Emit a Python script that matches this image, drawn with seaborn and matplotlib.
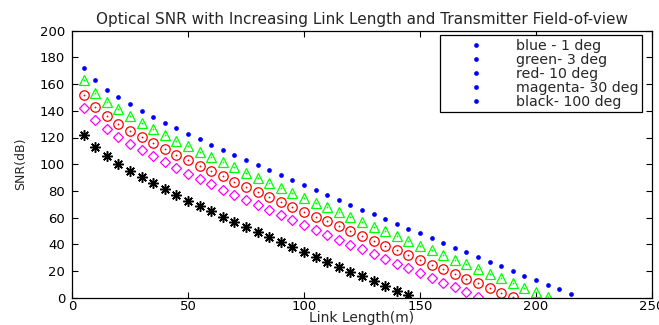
import matplotlib
matplotlib.use("Agg")
import matplotlib.pyplot as plt
from matplotlib.lines import Line2D
import seaborn as sns
import pandas as pd

# Link length (m)
dist_blue = [5, 10, 15, 20, 25, 30, 35, 40, 45, 50, 55, 60, 65, 70, 75, 80, 85, 90, 95, 100,
             105, 110, 115, 120, 125, 130, 135, 140, 145, 150, 155, 160, 165, 170, 175, 180,
             185, 190, 195, 200, 205, 210, 215]
snr_blue = [172.0, 162.7, 155.9, 150.2, 145.0, 140.2, 135.6, 131.2, 126.9, 122.7, 118.6, 114.6,
            110.7, 106.8, 102.9, 99.1, 95.4, 91.6, 87.9, 84.2, 80.5, 76.9, 73.2, 69.6, 66.0,
            62.4, 58.8, 55.3, 51.7, 48.2, 44.6, 41.1, 37.6, 34.1, 30.6, 27.1, 23.6, 20.1, 16.6,
            13.2, 9.7, 6.3, 2.8]

dist_green = dist_blue[:41]
snr_green = [162.8, 153.5, 146.7, 141.0, 135.8, 131.0, 126.4, 122.0, 117.7, 113.5, 109.4, 105.4,
             101.5, 97.6, 93.7, 89.9, 86.2, 82.4, 78.7, 75.0, 71.3, 67.7, 64.0, 60.4, 56.8,
             53.2, 49.6, 46.1, 42.5, 39.0, 35.4, 31.9, 28.4, 24.9, 21.4, 17.9, 14.4, 10.9, 7.4,
             4.0, 0.5]

dist_red = dist_blue[:38]
snr_red = [152.2, 142.9, 136.1, 130.4, 125.2, 120.4, 115.8, 111.4, 107.1, 102.9, 98.8, 94.8,
           90.9, 87.0, 83.1, 79.3, 75.6, 71.8, 68.1, 64.4, 60.7, 57.1, 53.4, 49.8, 46.2, 42.6,
           39.0, 35.5, 31.9, 28.4, 24.8, 21.3, 17.8, 14.3, 10.8, 7.3, 3.8, 0.3]

dist_magenta = dist_blue[:35]
snr_magenta = [142.2, 132.9, 126.1, 120.4, 115.2, 110.4, 105.8, 101.4, 97.1, 92.9, 88.8, 84.8,
               80.9, 77.0, 73.1, 69.3, 65.6, 61.8, 58.1, 54.4, 50.7, 47.1, 43.4, 39.8, 36.2,
               32.6, 29.0, 25.5, 21.9, 18.4, 14.8, 11.3, 7.8, 4.3, 0.8]

dist_black = dist_blue[:29]
snr_black = [122.0, 112.7, 105.9, 100.2, 95.0, 90.2, 85.6, 81.2, 76.9, 72.7, 68.6, 64.6, 60.7,
             56.8, 52.9, 49.1, 45.4, 41.6, 37.9, 34.2, 30.5, 26.9, 23.2, 19.6, 16.0, 12.4, 8.8,
             5.3, 1.7]

legend_labels = ["blue - 1 deg", "green- 3 deg", "red- 10 deg", "magenta- 30 deg", "black- 100 deg"]
x_ticks = [0, 50, 100, 150, 200, 250]
y_ticks = [0, 20, 40, 60, 80, 100, 120, 140, 160, 180, 200]

sns.set_style("ticks")
plt.rcParams["font.family"] = ["DejaVu Sans"]
plt.rcParams["xtick.direction"] = "in"
plt.rcParams["ytick.direction"] = "in"

fig = plt.figure(figsize=(6.59, 3.25), dpi=100)
ax = fig.add_axes([72 / 659, 1 - 297.7 / 325, 580 / 659, 267 / 325])

def draw(xs, ys, marker, color, ms, mew=0.9, filled=False, dot=False):
    df = pd.DataFrame({"x": xs, "y": ys})
    sns.lineplot(data=df, x="x", y="y", ax=ax, linestyle="", marker=marker, color=color,
                 markersize=ms, markeredgecolor=color, markeredgewidth=mew,
                 markerfacecolor=color if filled else "none", errorbar=None)
    if dot:
        sns.lineplot(data=df, x="x", y="y", ax=ax, linestyle="", marker="o", color=color,
                     markersize=1.3, markeredgecolor=color, markeredgewidth=0,
                     markerfacecolor=color, errorbar=None)

draw(dist_blue, snr_blue, "o", "#0000ff", 3.4, mew=0, filled=True)
draw(dist_green, snr_green, "^", "#00ff00", 7.2, dot=True)
draw(dist_red, snr_red, "o", "#ff0000", 6.8, dot=True)
draw(dist_magenta, snr_magenta, "D", "#ff00ff", 5.4)
draw(dist_black, snr_black, (8, 2, 0), "#000000", 7.5, mew=1.1)

ax.set_xlim(0, 250)
ax.set_ylim(0, 200)
ax.set_xticks(x_ticks)
ax.set_yticks(y_ticks)
ax.tick_params(axis="both", which="both", direction="in", length=4, width=0.8,
               top=True, right=True, labelsize=9.5, colors="black")
ax.tick_params(axis="y", pad=5)
ax.tick_params(axis="x", pad=2)
for s in ax.spines.values():
    s.set_visible(True)
    s.set_color("black")
    s.set_linewidth(0.9)

ax.set_xlabel("Link Length(m)", fontsize=10, labelpad=-2)
ax.set_ylabel("SNR(dB)", fontsize=9, labelpad=9)
ax.set_title("Optical SNR with Increasing Link Length and Transmitter Field-of-view",
             fontsize=11, pad=5)

handles = [Line2D([], [], linestyle="", marker="o", markersize=3.4, color="#0000ff",
                  markeredgewidth=0) for _ in legend_labels]
leg = ax.legend(handles, legend_labels, loc="upper right", bbox_to_anchor=(0.983, 0.984),
                borderaxespad=0, fontsize=10.2, frameon=True, fancybox=False, shadow=False,
                handlelength=4.6, handletextpad=0.55, labelspacing=0.0, borderpad=0.25)
leg.get_frame().set_edgecolor("black")
leg.get_frame().set_linewidth(0.9)
leg.get_frame().set_alpha(1)

fig.savefig("out.png", dpi=100)
